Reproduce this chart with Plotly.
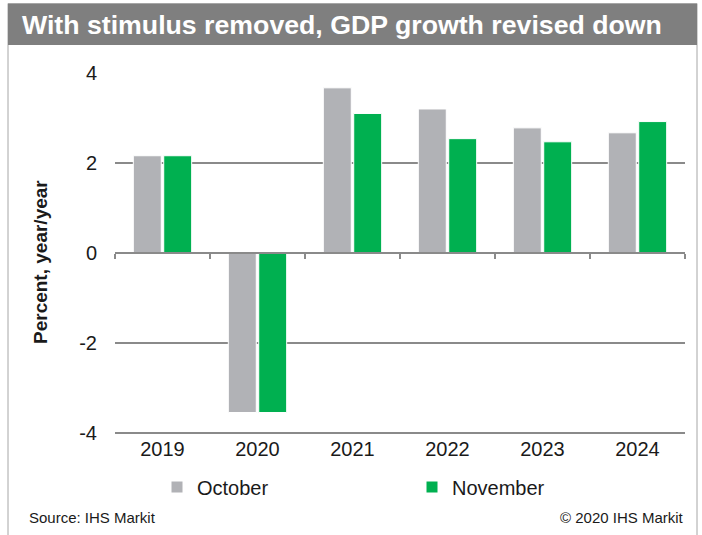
import plotly.graph_objects as go

# Forecast vintages of annual real GDP growth (percent, year/year)
years = ["2019", "2020", "2021", "2022", "2023", "2024"]
october = [2.16, -3.55, 3.67, 3.20, 2.78, 2.67]
november = [2.16, -3.55, 3.10, 2.54, 2.47, 2.92]

title_text = "With stimulus removed, GDP growth revised down"
y_title = "Percent, year/year"
source_text = "Source: IHS Markit"
copyright_text = "© 2020 IHS Markit"

GREY = "#B1B2B6"
GREEN = "#00B050"
GRID = "#8A8A8A"
TEXT = "#1A1A1A"
FONT = "Arial, Liberation Sans, sans-serif"

# Page geometry (pixels) and helpers to place decorations in paper units
W, H = 702, 535
L, R, T, B = 115, 17, 73, 100
PW, PH = W - L - R, H - T - B


def fx(px):
    return (px - L) / PW


def fy(py):
    return (H - B - py) / PH


fig = go.Figure()
fig.add_trace(go.Bar(x=years, y=october, name="October", marker=dict(color=GREY, line=dict(color="white", width=1))))
fig.add_trace(go.Bar(x=years, y=november, name="November", marker=dict(color=GREEN, line=dict(color="white", width=1))))

# Helper trace that carries the category axis drawn through zero
fig.add_trace(go.Scatter(x=years, y=november, xaxis="x2", mode="lines", line=dict(width=0),
                         opacity=0, hoverinfo="skip", showlegend=False))

fig.update_layout(
    width=W, height=H,
    margin=dict(l=L, r=R, t=T, b=B),
    paper_bgcolor="white", plot_bgcolor="white",
    font=dict(family=FONT, color=TEXT),
    barmode="group", bargap=0.36, bargroupgap=0.08,
    showlegend=True,
    legend=dict(orientation="h", x=fx(157), xanchor="left", y=fy(487), yanchor="middle",
                font=dict(size=20, color=TEXT), entrywidth=210, bgcolor="rgba(0,0,0,0)",
                traceorder="normal"),
    xaxis=dict(type="category", range=[-0.5, 5.5], showline=False, showgrid=False, ticks="",
               tickfont=dict(size=20, color=TEXT), fixedrange=True),
    xaxis2=dict(type="category", overlaying="x", anchor="free", position=fy(253), range=[-0.5, 5.5],
                showline=True, linecolor=GRID, linewidth=1.5, ticks="outside", tickson="boundaries",
                ticklen=5, tickwidth=1.5, tickcolor=GRID, showticklabels=False, showgrid=False,
                side="bottom"),
    yaxis=dict(range=[-4.05, 4], tickvals=[-4, -2, 0, 2, 4], ticktext=["-4", "-2", "0", "2", "4"],
               showgrid=True, gridcolor=GRID, gridwidth=1.5, zeroline=False, showline=False,
               ticks="", ticklabelstandoff=17, tickfont=dict(size=20, color=TEXT)),
    shapes=[
        dict(type="rect", xref="paper", yref="paper", x0=fx(8), x1=fx(697), y0=fy(537), y1=fy(3.5),
             line=dict(color="#A6A6A6", width=1), fillcolor="rgba(0,0,0,0)", layer="below"),
        dict(type="rect", xref="paper", yref="paper", x0=fx(8), x1=fx(697), y0=fy(45), y1=fy(4),
             line=dict(width=0), fillcolor="#7F7F7F", layer="below"),
    ],
    annotations=[
        dict(text=f"<b>{title_text}</b>", xref="paper", yref="paper", x=fx(20), y=fy(25),
             xanchor="left", yanchor="middle", showarrow=False, font=dict(size=26.7, color="white")),
        dict(text=f"<b>{y_title}</b>", xref="paper", yref="paper", x=fx(40), y=fy(262),
             xanchor="center", yanchor="middle", textangle=-90, showarrow=False,
             font=dict(size=19, color=TEXT)),
        dict(text=source_text, xref="paper", yref="paper", x=fx(27), y=fy(517),
             xanchor="left", yanchor="middle", showarrow=False, font=dict(size=15, color=TEXT)),
        dict(text=copyright_text, xref="paper", yref="paper", x=fx(686), y=fy(517),
             xanchor="right", yanchor="middle", showarrow=False, font=dict(size=15, color=TEXT)),
    ],
)

fig.write_html("out.html", config={"displayModeBar": False})
